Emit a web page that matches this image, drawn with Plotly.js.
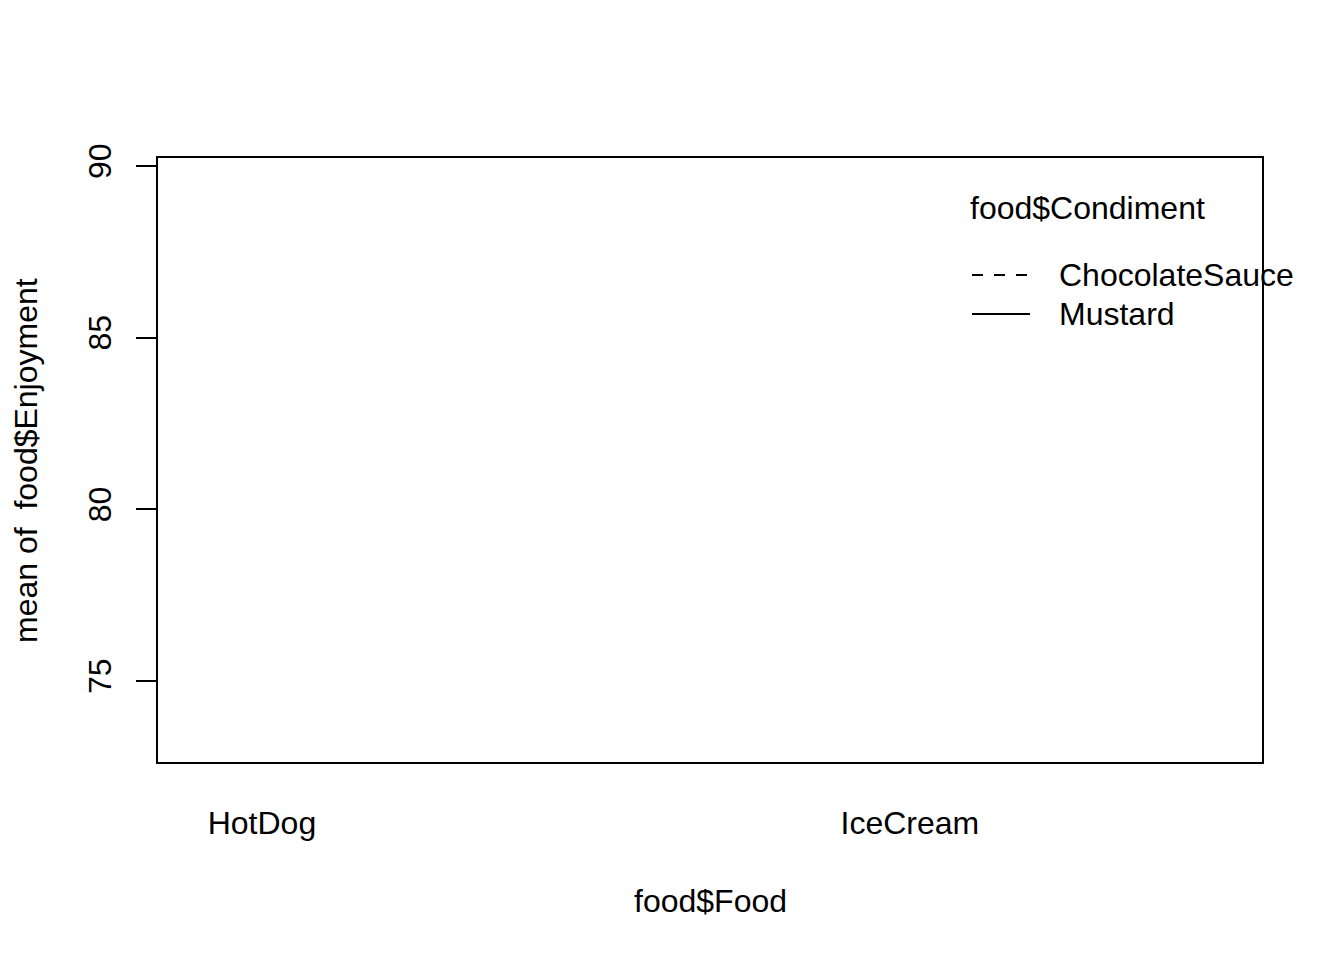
<!DOCTYPE html>
<html>
<head>
<meta charset="utf-8">
<script src="https://cdn.plot.ly/plotly-3.0.1.min.js"></script>
<style>
  html, body { margin: 0; padding: 0; background: #fff; }
  #chart { width: 1344px; height: 960px; }
</style>
</head>
<body>
<div id="chart"></div>
<script>
// ---- Data (interaction plot: mean Enjoyment by Food x Condiment) ----
// The reference shows no drawn lines: the cell means are missing (NA).
const foods = ["HotDog", "IceCream"];
const foodPositions = [1, 2];
const condiments = ["ChocolateSauce", "Mustard"];
const meanChocolateSauce = [null, null];
const meanMustard = [null, null];
const yTickValues = [75, 80, 85, 90];
const yTickLabels = ["75", "80", "85", "90"];

// ---- Layout helpers (pixel -> paper) ----
const W = 1344, H = 960;
const L = 157, R = 1263, T = 157, B = 763;
const px = x => (x - L) / (R - L);
const py = y => 1 - (y - T) / (B - T);
const FONT = "Liberation Sans, Arial, Helvetica, sans-serif";
const FS = 32;

const seriesByCondiment = [meanChocolateSauce, meanMustard];
const dashes = ["11px,11px", "solid"];

const traces = condiments.map((c, i) => ({
  type: "scatter",
  mode: "lines",
  name: c,
  x: foodPositions,
  y: seriesByCondiment[i],
  line: { color: "#000", width: 2, dash: dashes[i] },
  showlegend: false,
  hoverinfo: "skip"
}));

// Manual R-style legend
const legendRowsY = [275, 314];
const shapes = [
  { type: "rect", xref: "paper", yref: "paper", x0: 0, x1: 1, y0: 0, y1: 1,
    line: { color: "#000", width: 2 }, fillcolor: "rgba(0,0,0,0)" }
];
const annotations = [
  { xref: "paper", yref: "paper", x: px(968), y: py(208), xanchor: "left", yanchor: "middle",
    text: "food$Condiment", showarrow: false, font: { family: FONT, size: FS, color: "#000" } },
  { xref: "paper", yref: "paper", x: px(710), y: py(901), xanchor: "center", yanchor: "middle",
    text: "food$Food", showarrow: false, font: { family: FONT, size: FS, color: "#000" } },
  { xref: "paper", yref: "paper", x: px(26), y: py(461), xanchor: "center", yanchor: "middle",
    textangle: -90, text: "mean of\u00a0 food$Enjoyment", showarrow: false,
    font: { family: FONT, size: FS, color: "#000" } }
];
condiments.forEach((c, i) => {
  shapes.push({ type: "line", xref: "paper", yref: "paper",
    x0: px(972), x1: px(1030), y0: py(legendRowsY[i]), y1: py(legendRowsY[i]),
    line: { color: "#000", width: 2, dash: dashes[i] } });
  annotations.push({ xref: "paper", yref: "paper", x: px(1057), y: py(legendRowsY[i]),
    xanchor: "left", yanchor: "middle", text: c, showarrow: false,
    font: { family: FONT, size: FS, color: "#000" } });
});

const layout = {
  width: W, height: H,
  margin: { l: L, r: W - R, t: T, b: H - B, pad: 0 },
  paper_bgcolor: "#fff", plot_bgcolor: "#fff",
  font: { family: FONT, size: FS, color: "#000" },
  showlegend: false,
  xaxis: {
    type: "linear", range: [0.838, 2.545], autorange: false,
    tickvals: foodPositions, ticktext: foods,
    ticks: "", showline: false, showgrid: false, zeroline: false,
    ticklabelstandoff: 38,
    tickfont: { family: FONT, size: FS, color: "#000" }
  },
  yaxis: {
    type: "linear", range: [72.61, 90.26], autorange: false,
    tickvals: yTickValues, ticktext: yTickLabels,
    ticks: "outside", ticklen: 20, tickwidth: 2, tickcolor: "#000",
    tickangle: -90, ticklabelstandoff: 12,
    showline: false, showgrid: false, zeroline: false,
    tickfont: { family: FONT, size: FS, color: "#000" }
  },
  shapes: shapes,
  annotations: annotations
};

Plotly.newPlot("chart", traces, layout, { staticPlot: true, displayModeBar: false });
</script>
</body>
</html>
